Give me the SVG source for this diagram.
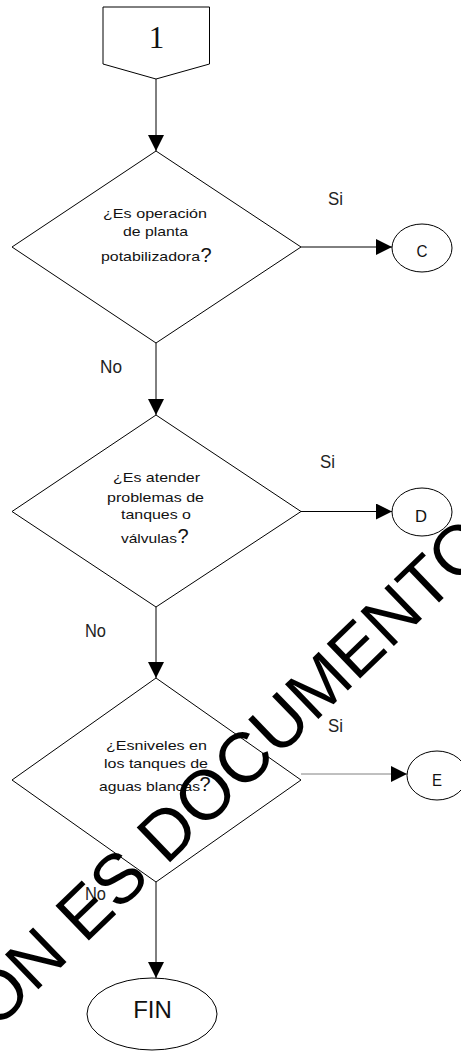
<svg xmlns="http://www.w3.org/2000/svg" width="461" height="1051" viewBox="0 0 461 1051">
<style>
.shape{fill:#fff;stroke:#000;stroke-width:1}
.line{fill:none;stroke:#000;stroke-width:1}
.t{font-family:"Liberation Sans",Arial,sans-serif;font-size:13.5px;fill:#111}
.q{font-family:"Liberation Sans",Arial,sans-serif;font-size:20px;fill:#111}
.lbl{font-family:"Liberation Sans",Arial,sans-serif;font-size:19px;fill:#222}
.cl{font-family:"Liberation Sans",Arial,sans-serif;font-size:17px;fill:#111;text-anchor:middle}
.wm{font-family:"Liberation Sans",Arial,sans-serif;font-size:70px;fill:#000}
</style>
<defs>
<marker id="ah" viewBox="0 0 16 16" refX="16" refY="8" markerWidth="16" markerHeight="16" markerUnits="userSpaceOnUse" orient="auto">
<path d="M0,0 L16,8 L0,16 Z" fill="#000"/>
</marker>
</defs>
<rect width="461" height="1051" fill="#fff"/>
<g id="connectors">
<line class="line" x1="156" y1="79" x2="156" y2="151" marker-end="url(#ah)"/>
<line class="line" x1="301" y1="247" x2="392" y2="247" marker-end="url(#ah)"/>
<line class="line" x1="156" y1="343" x2="156" y2="415" marker-end="url(#ah)"/>
<line class="line" x1="301" y1="511.5" x2="392" y2="511.5" marker-end="url(#ah)"/>
<line class="line" x1="156" y1="607" x2="156" y2="678" marker-end="url(#ah)"/>
<line class="line" x1="301" y1="774" x2="407" y2="774" stroke="#808080" style="stroke:#808080" marker-end="url(#ah)"/>
<line class="line" x1="156" y1="882" x2="156" y2="978" marker-end="url(#ah)"/>
<text class="lbl" x="328" y="205" textLength="15" lengthAdjust="spacingAndGlyphs">Si</text>
<text class="lbl" x="100" y="373" textLength="22" lengthAdjust="spacingAndGlyphs">No</text>
<text class="lbl" x="320" y="468" textLength="15" lengthAdjust="spacingAndGlyphs">Si</text>
<text class="lbl" x="85" y="637" textLength="21" lengthAdjust="spacingAndGlyphs">No</text>
<text class="lbl" x="328" y="732" textLength="15" lengthAdjust="spacingAndGlyphs">Si</text>
<text class="lbl" x="85" y="900" textLength="21" lengthAdjust="spacingAndGlyphs">No</text>
</g>
<g id="start-1">
<path class="shape" d="M103,7 H209.5 V64 L156,79 L103,64 Z"/>
<text x="156.5" y="48" font-family="'Liberation Serif','Times New Roman',serif" font-size="31" text-anchor="middle" fill="#111">1</text>
</g>
<g id="decision-1">
<path class="shape" d="M156,151 L301,247 L156,343 L12,247 Z"/>
<text class="t" x="155" y="218" text-anchor="middle" textLength="104" lengthAdjust="spacingAndGlyphs">¿Es operación</text>
<text class="t" x="155.5" y="236" text-anchor="middle" textLength="65" lengthAdjust="spacingAndGlyphs">de planta</text>
<text class="t" x="101" y="261" textLength="99" lengthAdjust="spacingAndGlyphs">potabilizadora</text>
<text class="q" x="200.5" y="262">?</text>
</g>
<g id="connector-C">
<ellipse class="shape" cx="422" cy="248" rx="30" ry="24"/>
<text class="cl" x="422" y="257" textLength="11" lengthAdjust="spacingAndGlyphs">C</text>
</g>
<g id="decision-2">
<path class="shape" d="M156,415 L301,511.5 L156,607 L12,511.5 Z"/>
<text class="t" x="156.5" y="482" text-anchor="middle" textLength="87" lengthAdjust="spacingAndGlyphs">¿Es atender</text>
<text class="t" x="155.5" y="502" text-anchor="middle" textLength="97" lengthAdjust="spacingAndGlyphs">problemas de</text>
<text class="t" x="156" y="519" text-anchor="middle" textLength="70" lengthAdjust="spacingAndGlyphs">tanques o</text>
<text class="t" x="121" y="543" textLength="56" lengthAdjust="spacingAndGlyphs">válvulas</text>
<text class="q" x="177.5" y="543">?</text>
</g>
<g id="connector-D">
<ellipse class="shape" cx="422" cy="512" rx="30" ry="24"/>
<text class="cl" x="421" y="522" textLength="12" lengthAdjust="spacingAndGlyphs">D</text>
</g>
<g id="decision-3">
<path class="shape" d="M156,678 L301,780 L156,882 L12,780 Z"/>
<text class="t" x="156.5" y="750" text-anchor="middle" textLength="101" lengthAdjust="spacingAndGlyphs">¿Esniveles en</text>
<text class="t" x="156" y="768" text-anchor="middle" textLength="104" lengthAdjust="spacingAndGlyphs">los tanques de</text>
<text class="t" x="99" y="791" textLength="101" lengthAdjust="spacingAndGlyphs">aguas blancas</text>
<text class="q" x="199.5" y="791">?</text>
</g>
<g id="connector-E">
<ellipse class="shape" cx="437" cy="775.5" rx="30" ry="24.5"/>
<text class="cl" x="437" y="786" textLength="10" lengthAdjust="spacingAndGlyphs">E</text>
</g>
<g id="end-FIN">
<ellipse class="shape" cx="152" cy="1014" rx="65" ry="36"/>
<text x="152.5" y="1018" font-family="'Liberation Sans',Arial,sans-serif" font-size="24" text-anchor="middle" fill="#111">FIN</text>
</g>
<g id="watermark">
<text class="wm" x="-4.8" y="1031" transform="rotate(-44 -4.8 1031)">ON ES DOCUMENTO</text>
</g>
</svg>
